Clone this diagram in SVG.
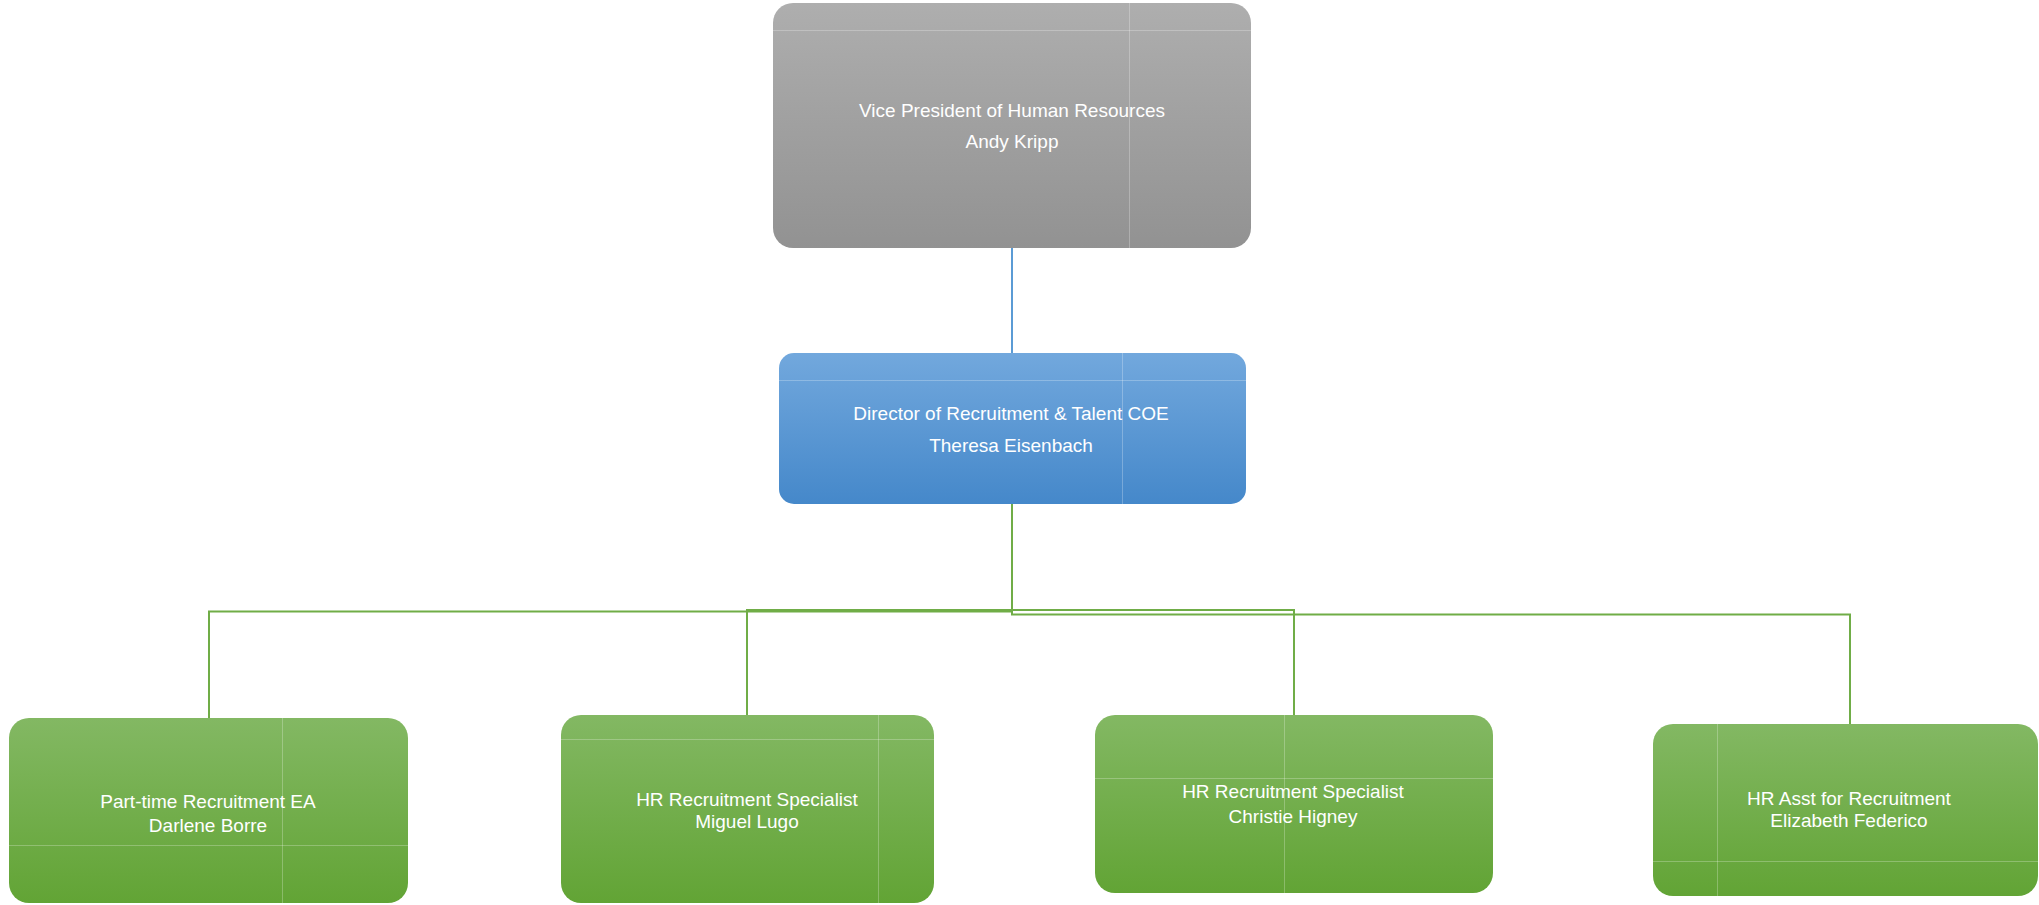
<svg xmlns="http://www.w3.org/2000/svg" width="2039" height="905" viewBox="0 0 2039 905">
  <defs>
    <linearGradient id="gGrey" x1="0" y1="0" x2="0" y2="1">
      <stop offset="0" stop-color="#AEAEAE"/>
      <stop offset="1" stop-color="#929292"/>
    </linearGradient>
    <linearGradient id="gBlue" x1="0" y1="0" x2="0" y2="1">
      <stop offset="0" stop-color="#72A8DD"/>
      <stop offset="1" stop-color="#4588CA"/>
    </linearGradient>
    <linearGradient id="gGreen" x1="0" y1="0" x2="0" y2="1">
      <stop offset="0" stop-color="#83B863"/>
      <stop offset="1" stop-color="#62A435"/>
    </linearGradient>
  </defs>
  <style>
    .lbl { font-family: "Liberation Sans", Arial, sans-serif; font-size: 19px; fill: #FFFFFF; text-anchor: middle; }
    .grid { stroke: #FFFFFF; stroke-opacity: 0.25; stroke-width: 1; fill: none; }
    .link-g { stroke: #70AD47; stroke-width: 2; fill: none; }
    .link-b { stroke: #5B9BD5; stroke-width: 2; fill: none; }
  </style>

  <rect width="2039" height="905" fill="#FFFFFF"/>

  <!-- connectors -->
  <g id="connectors">
    <path class="link-b" d="M1012,248 V353"/>
    <path class="link-g" d="M1012,504 V611.5 H209 V718"/>
    <path class="link-g" d="M1012,504 V610 H747 V715"/>
    <path class="link-g" d="M1012,504 V610 H1294 V715"/>
    <path class="link-g" d="M1012,504 V614.5 H1850 V724"/>
  </g>

  <!-- vice president -->
  <g id="vp">
    <rect x="773" y="3" width="478" height="245" rx="20" fill="url(#gGrey)"/>
    <path class="grid" d="M773,30.5 H1251 M1129.5,3 V248"/>
    <text class="lbl" x="1012" y="117">Vice President of Human Resources</text>
    <text class="lbl" x="1012" y="148">Andy Kripp</text>
  </g>

  <!-- director -->
  <g id="director">
    <rect x="779" y="353" width="467" height="151" rx="15" fill="url(#gBlue)"/>
    <path class="grid" d="M779,380.5 H1246 M1122.5,353 V504"/>
    <text class="lbl" x="1011" y="420">Director of Recruitment &amp; Talent COE</text>
    <text class="lbl" x="1011" y="452">Theresa Eisenbach</text>
  </g>

  <!-- part-time recruitment EA -->
  <g id="darlene">
    <rect x="9" y="718" width="399" height="185" rx="20" fill="url(#gGreen)"/>
    <path class="grid" d="M9,845.5 H408 M282.5,718 V903"/>
    <text class="lbl" x="208" y="808">Part-time Recruitment EA</text>
    <text class="lbl" x="208" y="832">Darlene Borre</text>
  </g>

  <!-- recruitment specialist -->
  <g id="miguel">
    <rect x="561" y="715" width="373" height="188" rx="20" fill="url(#gGreen)"/>
    <path class="grid" d="M561,739.5 H934 M878.5,715 V903"/>
    <text class="lbl" x="747" y="806">HR Recruitment Specialist</text>
    <text class="lbl" x="747" y="828">Miguel Lugo</text>
  </g>

  <!-- recruitment specialist -->
  <g id="christie">
    <rect x="1095" y="715" width="398" height="178" rx="20" fill="url(#gGreen)"/>
    <path class="grid" d="M1095,778.5 H1493 M1284.5,715 V893"/>
    <text class="lbl" x="1293" y="798">HR Recruitment Specialist</text>
    <text class="lbl" x="1293" y="823">Christie Higney</text>
  </g>

  <!-- recruitment assistant -->
  <g id="elizabeth">
    <rect x="1653" y="724" width="385" height="172" rx="20" fill="url(#gGreen)"/>
    <path class="grid" d="M1653,861.5 H2038 M1717.5,724 V896"/>
    <text class="lbl" x="1849" y="805">HR Asst for Recruitment</text>
    <text class="lbl" x="1849" y="827">Elizabeth Federico</text>
  </g>
</svg>
